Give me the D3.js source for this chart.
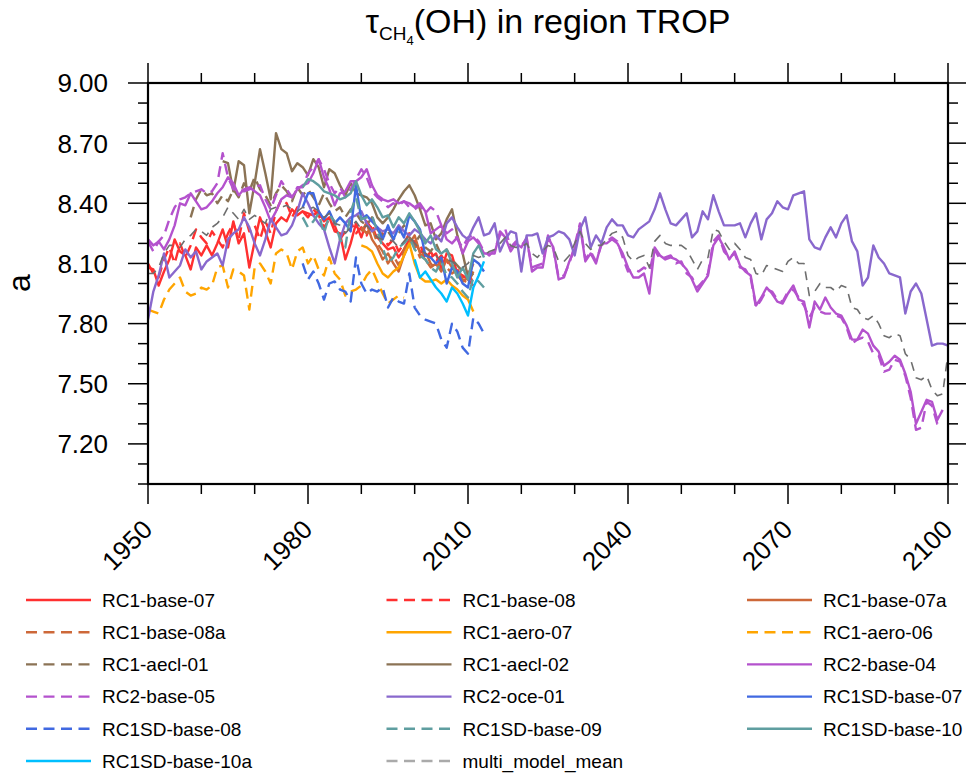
<!DOCTYPE html>
<html>
<head>
<meta charset="utf-8">
<script src="https://d3js.org/d3.v7.min.js"></script>
<style>
  body { margin: 0; background: #fff; }
  text { font-family: "Liberation Sans", Arial, Helvetica, sans-serif; fill: #000; }
</style>
</head>
<body>
<div class="vis"></div>
<script>
  // ---- data (tau in years) ----
  var seriesNames = ['RC1-base-07', 'RC1-base-08', 'RC1-base-07a', 'RC1-base-08a', 'RC1-aero-07', 'RC1-aero-06',
    'RC1-aecl-01', 'RC1-aecl-02', 'RC2-base-04', 'RC2-base-05', 'RC2-oce-01', 'RC1SD-base-07',
    'RC1SD-base-08', 'RC1SD-base-09', 'RC1SD-base-10', 'RC1SD-base-10a', 'multi_model_mean'];
  var startYears = [1950, 1950, 1990, 1990, 1990, 1950, 1958, 1964, 1950, 1950, 1950, 1979, 1979, 1979, 1979, 2000, 1950];

  var rc1Base07 = [8.08, 8.07, 7.99, 8.06, 8.12, 8.22, 8.16, 8.14, 8.07, 8.18,
    8.14, 8.19, 8.14, 8.20, 8.27, 8.18, 8.31, 8.20, 8.25, 8.08,
    8.21, 8.33, 8.26, 8.18, 8.30, 8.33, 8.31, 8.37, 8.34, 8.36,
    8.35, 8.34, 8.36, 8.31, 8.33, 8.26, 8.25, 8.12, 8.20, 8.30,
    8.23, 8.31, 8.27, 8.23, 8.20, 8.17, 8.18, 8.13, 8.17, 8.22,
    8.21, 8.16, 8.15, 8.13, 8.15, 8.07, 8.15, 8.14, 8.05, 8.04,
    8.02, 7.99];
  var rc1Base08 = [8.10, 8.05, 8.03, 8.12, 8.18, 8.10, 8.20, 8.13, 8.19, 8.27,
    8.23, 8.20, 8.26, 8.22, 8.18, 8.25, 8.30, 8.22, 8.35, 8.26,
    8.29, 8.22, 8.31, 8.25, 8.36, 8.42, 8.40, 8.33, 8.38, 8.36,
    8.33, 8.37, 8.34, 8.28, 8.32, 8.29, 8.22, 8.26, 8.31, 8.25,
    8.28, 8.24, 8.30, 8.21, 8.25, 8.19, 8.22, 8.16, 8.20, 8.25,
    8.18, 8.20, 8.12, 8.16, 8.11, 8.14, 8.10, 8.12, 8.07, 8.03,
    8.06, 8.00];
  var rc1Base07a = [8.26, 8.30, 8.22, 8.18, 8.12, 8.15, 8.10, 8.06, 8.14, 8.20,
    8.24, 8.15, 8.12, 8.08, 8.10, 8.06, 8.12, 8.08, 8.04, 8.01,
    8.03, 8.10];
  var rc1Base08a = [8.28, 8.25, 8.28, 8.20, 8.16, 8.10, 8.14, 8.09, 8.17, 8.22,
    8.19, 8.13, 8.16, 8.10, 8.07, 8.11, 8.08, 8.05, 8.07, 8.02,
    8.00, 8.06];
  var rc1Aero07 = [8.19, 8.18, 8.16, 8.10, 8.05, 8.03, 8.06, 8.08, 8.14, 8.20,
    8.10, 8.03, 8.01, 8.01, 8.02, 8.00, 8.02, 7.99, 7.97, 7.94,
    7.92, 7.86];
  var rc1Aero06 = [7.87, 7.86, 7.85, 7.92, 7.97, 8.00, 8.03, 7.96, 7.94, 7.95,
    7.98, 7.97, 7.99, 8.08, 8.09, 7.98, 8.07, 8.06, 8.04, 7.87,
    8.08, 8.10, 8.06, 8.00, 8.15, 8.17, 8.15, 8.07, 8.16, 8.18,
    8.10, 8.14, 8.07, 8.04, 8.13, 8.05, 8.02, 7.94, 7.96, 7.97,
    7.99, 8.04, 8.07, 8.01, 7.95, 7.90, 7.92, 7.94, 7.93];
  var rc1Aecl01 = [8.33, 8.42,
    8.47, 8.44, 8.45, 8.40, 8.44, 8.41, 8.47, 8.43, 8.50, 8.46,
    8.53, 8.47, 8.44, 8.39, 8.45, 8.49, 8.46, 8.41, 8.48, 8.44,
    8.47, 8.43, 8.39, 8.45, 8.40, 8.36, 8.38, 8.33, 8.37, 8.35,
    8.31, 8.29, 8.33, 8.27, 8.24, 8.26, 8.22, 8.25, 8.29, 8.23,
    8.20, 8.24, 8.18, 8.16, 8.20, 8.14, 8.17, 8.12, 8.09, 8.06,
    8.03, 8.08];
  var rc1Aecl02 = [8.61, 8.60, 8.46, 8.61, 8.59, 8.35,
    8.50, 8.67, 8.55, 8.42, 8.75, 8.67, 8.65, 8.56, 8.60, 8.58,
    8.54, 8.62, 8.58, 8.48, 8.57, 8.55, 8.49, 8.44, 8.50, 8.45,
    8.44, 8.43, 8.40, 8.33, 8.30, 8.33, 8.37, 8.42, 8.46, 8.49,
    8.44, 8.37, 8.29, 8.30, 8.22, 8.25, 8.32, 8.37, 8.24, 8.15,
    8.03, 8.05];
  var rc2Base04 = [8.22, 8.19, 8.21, 8.17, 8.22, 8.29, 8.40, 8.39, 8.45, 8.41,
    8.37, 8.38, 8.41, 8.45, 8.48, 8.53, 8.50, 8.44, 8.47, 8.48,
    8.46, 8.44, 8.38, 8.31, 8.36, 8.42, 8.44, 8.43, 8.47, 8.49,
    8.50, 8.55, 8.62, 8.53, 8.47, 8.39, 8.45, 8.46, 8.51, 8.51,
    8.53, 8.57, 8.49, 8.44, 8.42, 8.41, 8.42, 8.40, 8.41, 8.40,
    8.38, 8.40, 8.36, 8.25, 8.27, 8.29, 8.22, 8.20, 8.23, 8.15,
    8.21, 8.23, 8.20, 8.15, 8.15, 8.15, 8.26, 8.23, 8.16, 8.20,
    8.18, 8.23, 8.06, 8.08, 8.08, 8.23, 8.18, 8.02, 8.03, 8.11,
    8.17, 8.29, 8.11, 8.15, 8.10, 8.20, 8.20, 8.22, 8.20, 8.15,
    8.08, 8.03, 8.03, 8.05, 7.95, 8.18, 8.14, 8.12, 8.13, 8.12,
    8.10, 8.07, 8.02, 7.96, 8.00, 8.04, 8.19, 8.23, 8.18, 8.12,
    8.16, 8.09, 8.06, 8.04, 7.89, 7.93, 7.98, 7.95, 7.91, 7.90,
    7.95, 7.99, 7.92, 7.91, 7.78, 7.91, 7.87, 7.93, 7.88, 7.85,
    7.84, 7.79, 7.72, 7.72, 7.77, 7.75, 7.69, 7.66, 7.59, 7.61,
    7.64, 7.62, 7.55, 7.46, 7.30, 7.36, 7.42, 7.41, 7.32, 7.37];
  var rc2Base05 = [8.21, 8.16, 8.21, 8.24, 8.32, 8.38, 8.42, 8.43, 8.45, 8.46,
    8.47, 8.45, 8.46, 8.50, 8.65, 8.53, 8.47, 8.47, 8.46, 8.47,
    8.48, 8.49, 8.42, 8.37, 8.44, 8.51, 8.47, 8.43, 8.48, 8.48,
    8.55, 8.58, 8.62, 8.57, 8.50, 8.45, 8.48, 8.43, 8.47, 8.52,
    8.57, 8.53, 8.46, 8.43, 8.41, 8.38, 8.40, 8.39, 8.41, 8.38,
    8.37, 8.39, 8.35, 8.38, 8.36, 8.29, 8.25, 8.27, 8.22, 8.18,
    8.23, 8.24, 8.21, 8.16, 8.14, 8.17, 8.24, 8.27, 8.18, 8.21,
    8.19, 8.22, 8.08, 8.09, 8.10, 8.24, 8.17, 8.03, 8.04, 8.10,
    8.19, 8.30, 8.12, 8.16, 8.11, 8.19, 8.21, 8.23, 8.21, 8.13,
    8.06, 8.07, 8.06, 8.08, 8.06, 8.17, 8.12, 8.13, 8.14, 8.10,
    8.11, 8.05, 8.03, 7.98, 8.01, 8.05, 8.21, 8.24, 8.16, 8.13,
    8.15, 8.08, 8.07, 8.03, 7.88, 7.92, 7.97, 7.96, 7.92, 7.91,
    7.96, 7.97, 7.93, 7.89, 7.83, 7.88, 7.86, 7.85, 7.85, 7.84,
    7.83, 7.78, 7.70, 7.72, 7.73, 7.71, 7.65, 7.64, 7.56, 7.57,
    7.62, 7.61, 7.54, 7.43, 7.27, 7.28, 7.41, 7.39, 7.30, 7.30];
  var rc2Oce01 = [7.82, 7.96, 8.04, 8.15, 8.03, 8.06, 8.09, 8.17, 8.13, 8.16,
    8.07, 8.11, 8.13, 8.15, 8.09, 8.22, 8.25, 8.27, 8.33, 8.28,
    8.20, 8.14, 8.22, 8.32, 8.28, 8.24, 8.25, 8.29, 8.36, 8.45,
    8.40, 8.34, 8.30, 8.27, 8.18, 8.10, 8.22, 8.30, 8.33, 8.34,
    8.36, 8.30, 8.26, 8.28, 8.26, 8.27, 8.25, 8.29, 8.26, 8.24,
    8.27, 8.25, 8.22, 8.20, 8.24, 8.21, 8.30, 8.33, 8.28, 8.24,
    8.22, 8.28, 8.33, 8.24, 8.25, 8.30, 8.16, 8.22, 8.26, 8.25,
    8.06, 8.24, 8.24, 8.25, 8.15, 8.23, 8.24, 8.26, 8.25, 8.22,
    8.14, 8.27, 8.33, 8.18, 8.24, 8.20, 8.28, 8.32, 8.29, 8.29,
    8.24, 8.23, 8.27, 8.29, 8.31, 8.37, 8.45, 8.37, 8.30, 8.29,
    8.32, 8.35, 8.23, 8.26, 8.36, 8.32, 8.44, 8.36, 8.29, 8.29,
    8.29, 8.30, 8.23, 8.30, 8.35, 8.22, 8.32, 8.35, 8.41, 8.38,
    8.37, 8.44, 8.45, 8.46, 8.22, 8.18, 8.17, 8.23, 8.28, 8.23,
    8.30, 8.34, 8.21, 8.16, 7.99, 8.03, 8.19, 8.13, 8.10, 8.05,
    8.04, 8.03, 7.85, 7.96, 8.00, 7.95, 7.82, 7.69, 7.70, 7.70,
    7.69];
  var rc1sdBase07 = [8.38,
    8.45, 8.45, 8.36, 8.32, 8.36, 8.30, 8.33, 8.30, 8.26, 8.49,
    8.32, 8.34, 8.31, 8.28, 8.22, 8.29, 8.22, 8.28, 8.23, 8.34,
    8.31, 8.27, 8.14, 8.13, 8.10, 8.13, 8.00, 8.08, 8.06, 8.00,
    7.98, 8.12, 8.10, 8.06];
  var rc1sdBase08 = [8.10,
    8.02, 8.06, 8.00, 7.92, 8.00, 8.01, 7.97, 7.96, 7.91, 8.13,
    8.00, 7.95, 7.97, 7.96, 7.98, 7.88, 7.93, 7.91, 7.90, 8.05,
    7.88, 7.84, 7.82, 7.81, 7.80, 7.72, 7.68, 7.80, 7.76, 7.68,
    7.65, 7.83, 7.80, 7.75];
  var rc1sdBase09 = [8.33,
    8.28, 8.31, 8.35, 8.25, 8.34, 8.31, 8.22, 8.18, 8.36, 8.43,
    8.32, 8.33, 8.34, 8.26, 8.18, 8.10, 8.13, 8.18, 8.20, 8.23,
    8.17, 8.14, 8.12, 8.08, 8.06, 8.11, 8.04, 8.03, 8.00, 7.96,
    7.93, 8.03, 8.01, 7.98];
  var rc1sdBase10 = [8.48,
    8.52, 8.51, 8.49, 8.46, 8.45, 8.44, 8.42, 8.43, 8.45, 8.51,
    8.44, 8.39, 8.42, 8.38, 8.33, 8.34, 8.28, 8.33, 8.30, 8.35,
    8.31, 8.26, 8.20, 8.24, 8.17, 8.15, 8.17, 8.10, 8.03, 8.08,
    8.02, 8.15, 8.19, 8.13];
  var rc1sdBase10a = [8.12, 8.03, 8.06, 8.02, 7.98, 7.95, 7.91, 7.98, 7.95, 7.90,
    7.84, 7.98, 8.04, 8.11];
  var multiModelMean = [8.05, 8.05, 8.08, 8.15, 8.19, 8.19, 8.18, 8.22, 8.24, 8.27,
    8.26, 8.24, 8.28, 8.30, 8.33, 8.38, 8.35, 8.32, 8.37, 8.32,
    8.34, 8.32, 8.30, 8.37, 8.38, 8.38, 8.39, 8.37, 8.36, 8.38,
    8.37, 8.38, 8.36, 8.33, 8.35, 8.30, 8.29, 8.25, 8.28, 8.31,
    8.27, 8.29, 8.26, 8.23, 8.22, 8.22, 8.21, 8.18, 8.21, 8.24,
    8.20, 8.17, 8.15, 8.13, 8.14, 8.11, 8.12, 8.11, 8.09, 8.08,
    8.10, 8.14, 8.13, 8.14, 8.16, 8.17, 8.20, 8.23, 8.19, 8.18,
    8.18, 8.20, 8.15, 8.13, 8.16, 8.19, 8.18, 8.11, 8.11, 8.14,
    8.20, 8.26, 8.20, 8.17, 8.19, 8.19, 8.22, 8.25, 8.26, 8.23,
    8.14, 8.11, 8.13, 8.14, 8.08, 8.21, 8.24, 8.20, 8.19, 8.19,
    8.19, 8.17, 8.12, 8.07, 8.12, 8.13, 8.27, 8.26, 8.21, 8.17,
    8.20, 8.17, 8.13, 8.12, 8.05, 8.04, 8.09, 8.08, 8.07, 8.06,
    8.11, 8.13, 8.10, 8.10, 7.94, 7.96, 8.00, 7.98, 7.98, 7.96,
    7.99, 7.98, 7.88, 7.87, 7.83, 7.82, 7.84, 7.80, 7.74, 7.73,
    7.75, 7.74, 7.65, 7.62, 7.53, 7.52, 7.54, 7.47, 7.44, 7.45,
    7.65];

  var seriesValues = [rc1Base07, rc1Base08, rc1Base07a, rc1Base08a, rc1Aero07, rc1Aero06,
    rc1Aecl01, rc1Aecl02, rc2Base04, rc2Base05, rc2Oce01, rc1sdBase07,
    rc1sdBase08, rc1sdBase09, rc1sdBase10, rc1sdBase10a, multiModelMean];

  var xTickYears = [1950, 1980, 2010, 2040, 2070, 2100];
  var yTickValues = [7.20, 7.50, 7.80, 8.10, 8.40, 8.70, 9.00];

  // ---- styles ----
  var seriesColors = ['#ff3030', '#ff3030', '#cd6839', '#cd6839', '#ffa500', '#ffa500',
    '#8b7355', '#8b7355', '#b452cd', '#b452cd', '#8968cd', '#4169e1',
    '#4169e1', '#5f9ea0', '#5f9ea0', '#00bfff', '#6e6e6e'];
  var seriesDashed = [false, true, false, true, false, true,
    true, false, false, true, false, false,
    true, true, false, false, true];

  var width = 966, height = 773;
  var plotLeft = 148, plotRight = 948, plotTop = 83, plotBottom = 484;

  var svg = d3.select('.vis').append('svg')
    .attr('width', width)
    .attr('height', height);

  var x = d3.scaleLinear().domain([1950, 2100]).range([plotLeft, plotRight]);
  var y = d3.scaleLinear().domain([7.0, 9.0]).range([plotBottom, plotTop]);

  svg.append('clipPath').attr('id', 'plotclip')
    .append('rect').attr('x', plotLeft).attr('y', plotTop)
    .attr('width', plotRight - plotLeft).attr('height', plotBottom - plotTop);

  // lines
  var lineGen = d3.line()
    .x(function (d) { return x(d[0]); })
    .y(function (d) { return y(d[1]); });

  var lines = svg.append('g').attr('clip-path', 'url(#plotclip)');
  seriesValues.forEach(function (vals, i) {
    var pts = vals.map(function (v, k) { return [startYears[i] + k, v]; });
    var isMean = i === seriesValues.length - 1;
    lines.append('path')
      .attr('d', lineGen(pts))
      .attr('fill', 'none')
      .attr('stroke', seriesColors[i])
      .attr('stroke-width', isMean ? 1.6 : 2.4)
      .attr('stroke-linejoin', 'round')
      .attr('stroke-dasharray', seriesDashed[i] ? (isMean ? '9,7' : '11,6.5') : null);
  });

  // axes: major + minor ticks on all four sides, outward
  var xMinor = d3.range(1950, 2101, 10);
  var yMinor = d3.range(70, 91, 1).map(function (v) { return v / 10; });

  function isMajorX(t) { return xTickYears.indexOf(t) >= 0; }
  function isMajorY(t) { return yTickValues.some(function (v) { return Math.abs(v - t) < 1e-6; }); }

  var ticks = svg.append('g').attr('stroke', '#000').attr('stroke-width', 1.5);
  xMinor.forEach(function (t) {
    var len = isMajorX(t) ? 20 : 10;
    ticks.append('line').attr('x1', x(t)).attr('x2', x(t)).attr('y1', plotBottom).attr('y2', plotBottom + len);
    ticks.append('line').attr('x1', x(t)).attr('x2', x(t)).attr('y1', plotTop).attr('y2', plotTop - len);
  });
  yMinor.forEach(function (t) {
    var len = isMajorY(t) ? 20 : 10;
    ticks.append('line').attr('y1', y(t)).attr('y2', y(t)).attr('x1', plotLeft).attr('x2', plotLeft - len);
    ticks.append('line').attr('y1', y(t)).attr('y2', y(t)).attr('x1', plotRight).attr('x2', plotRight + len);
  });

  // frame
  svg.append('rect')
    .attr('x', plotLeft).attr('y', plotTop)
    .attr('width', plotRight - plotLeft).attr('height', plotBottom - plotTop)
    .attr('fill', 'none').attr('stroke', '#000').attr('stroke-width', 2.2);

  // tick labels
  svg.append('g').selectAll('text').data(yTickValues).join('text')
    .attr('x', plotLeft - 40)
    .attr('y', function (d) { return y(d); })
    .attr('dy', '0.36em')
    .attr('text-anchor', 'end')
    .style('font-size', '26px')
    .text(function (d) { return d.toFixed(2); });

  svg.append('g').selectAll('text').data(xTickYears).join('text')
    .attr('text-anchor', 'end')
    .attr('transform', function (d) { return 'translate(' + (x(d) + 6) + ',' + 531 + ') rotate(-45)'; })
    .style('font-size', '26px')
    .text(function (d) { return d; });

  // y axis title
  svg.append('text')
    .attr('transform', 'translate(30,283) rotate(-90)')
    .attr('text-anchor', 'middle')
    .style('font-size', '32px')
    .text('a');

  // title
  var title = svg.append('text')
    .attr('x', (plotLeft + plotRight) / 2)
    .attr('y', 33)
    .attr('text-anchor', 'middle')
    .style('font-size', '34px');
  title.append('tspan').text('\u03c4');
  title.append('tspan').attr('dy', 7).style('font-size', '19px').text('CH');
  title.append('tspan').attr('dy', 5).style('font-size', '13px').text('4');
  title.append('tspan').attr('dy', -12).text('(OH) in region TROP');

  // legend, 3 columns, row-major
  var legend = svg.append('g');
  seriesNames.forEach(function (name, i) {
    var col = i % 3, row = Math.floor(i / 3);
    var lx = 26 + col * 360.5, ly = 600 + row * 32.2;
    var isMean = i === seriesNames.length - 1;
    legend.append('line')
      .attr('x1', lx).attr('x2', lx + 65)
      .attr('y1', ly).attr('y2', ly)
      .attr('stroke', isMean ? '#aaaaaa' : seriesColors[i])
      .attr('stroke-width', 2.4)
      .attr('stroke-dasharray', seriesDashed[i] ? '11,6.5' : null);
    legend.append('text')
      .attr('x', lx + 76).attr('y', ly)
      .attr('dy', '0.36em')
      .style('font-size', '19px')
      .text(name);
  });
</script>
</body>
</html>
